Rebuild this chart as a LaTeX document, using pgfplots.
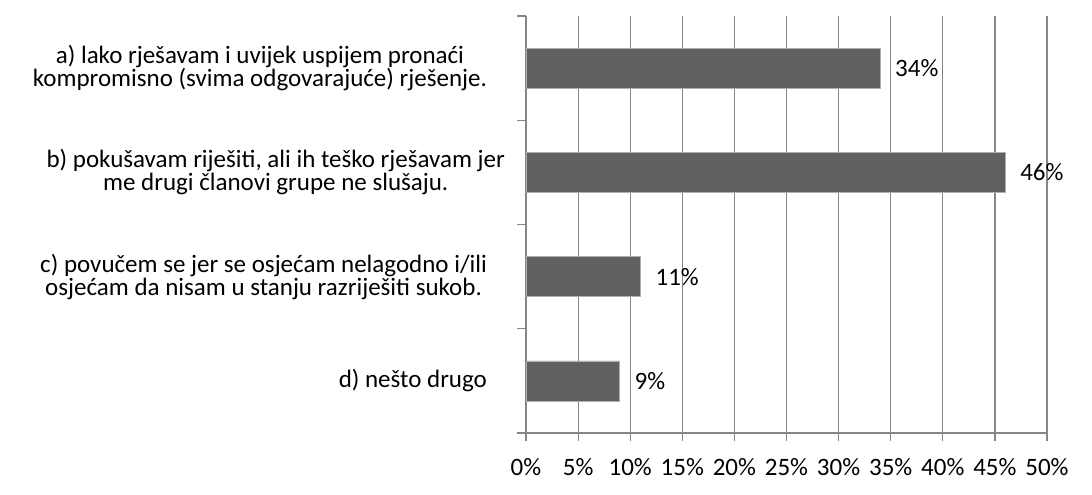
\documentclass[border=0pt]{standalone}
\usepackage{fontspec}
\setmainfont{Carlito}
\usepackage{pgfplots}
\pgfplotsset{compat=1.18}
\definecolor{barfill}{RGB}{96,96,96}
\definecolor{baredge}{RGB}{175,175,175}
\definecolor{gridgray}{RGB}{134,134,134}

\begin{document}
\begin{tikzpicture}[font=\fontsize{12.5}{11.5}\selectfont]
\useasboundingbox (0,0) rectangle (546pt,247pt);
\begin{axis}[
  at={(263pt,30.5pt)}, anchor=south west,
  scale only axis, width=260.5pt, height=208.5pt,
  xbar, bar width=20pt,
  xmin=0, xmax=50, ymin=0.5, ymax=4.5,
  xtick={0,5,...,50},
  xticklabel={\pgfmathprintnumber{\tick}\%},
  /pgf/number format/assume math mode=true,
  xmajorgrids, grid style={gridgray, line width=0.6pt},
  axis x line*=bottom, axis y line*=left,
  axis line style={gridgray, line width=0.6pt},
  tick style={gridgray, line width=0.6pt},
  tick align=outside, major tick length=4pt,
  ytick={1,2,3,4}, ytick style={draw=none},
  yticklabels={
    {d) nešto drugo},
    {c) povučem se jer se osjećam nelagodno i/ili\\osjećam da nisam u stanju razriješiti sukob.},
    {b) pokušavam riješiti, ali ih teško rješavam jer\hspace*{-9pt}\\me drugi članovi grupe ne slušaju.\hspace*{-9pt}},
    {a) lako rješavam i uvijek uspijem pronaći\\kompromisno (svima odgovarajuće) rješenje.}},
  yticklabel style={align=center, anchor=east, xshift=-12pt, font=\fontsize{12.5}{11.5}\selectfont},
  extra y ticks={0.5,1.5,2.5,3.5,4.5},
  extra y tick labels={},
  extra y tick style={ytick style={draw=gridgray}, major tick length=4.5pt, grid=none},
  xticklabel style={yshift=-5pt, font=\fontsize{12.5}{12}\selectfont},
  nodes near coords={\pgfmathprintnumber{\pgfplotspointmeta}\%},
  nodes near coords style={anchor=west, xshift=4pt, black, font=\fontsize{12.5}{12}\selectfont},
  every node near coord/.append style={/pgf/number format/assume math mode=true},
]
\addplot[fill=barfill, draw=baredge, line width=0.3pt]
  coordinates {(9,1) (11,2) (46,3) (34,4)};
\end{axis}
\end{tikzpicture}
\end{document}
